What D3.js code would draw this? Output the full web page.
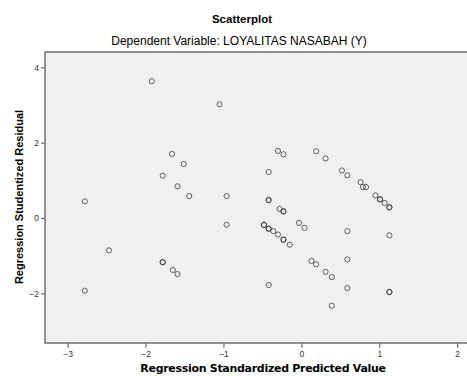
<!DOCTYPE html>
<html>
<head>
<meta charset="utf-8">
<script src="https://cdn.jsdelivr.net/npm/d3@7"></script>
<style>
  body { margin: 0; background: #fff; }
  svg { display: block; font-family: "Liberation Sans", Arial, sans-serif; }
</style>
</head>
<body>
<svg id="chart" width="467" height="376"></svg>
<script>
// Regression standardized predicted value (x) vs studentized residual (y)
const predicted = [
  -2.78, -2.78, -2.47, -1.92, -1.05, -1.66, -1.51, -1.78, -1.59, -1.44,
  -0.96, -0.96, -1.78, -1.78, -1.65, -1.59, -0.30, -0.23, -0.42, -0.42,
  -0.42, -0.28, -0.23, -0.23, -0.48, -0.48, -0.42, -0.42, -0.36, -0.30,
  -0.23, -0.23, -0.15, -0.03, 0.04, -0.42, 0.13, 0.19, 0.31, 0.39,
  0.39, 0.59, 0.59, 0.59, 1.13, 1.13, 1.13, 0.19, 0.31, 0.52,
  0.59, 0.76, 0.79, 0.83, 0.95, 1.01, 1.01, 1.07, 1.13, 1.13
];
const residual = [
  0.44, -1.93, -0.86, 3.63, 3.02, 1.70, 1.43, 1.12, 0.84, 0.58,
  0.58, -0.18, -1.17, -1.18, -1.38, -1.49, 1.78, 1.69, 1.22, 0.47,
  0.48, 0.24, 0.18, 0.17, -0.18, -0.19, -0.28, -0.29, -0.35, -0.44,
  -0.57, -0.58, -0.71, -0.13, -0.26, -1.78, -1.14, -1.23, -1.43, -1.57,
  -2.33, -0.35, -1.10, -1.86, -0.46, -1.96, -1.97, 1.77, 1.58, 1.26,
  1.13, 0.95, 0.82, 0.82, 0.60, 0.50, 0.49, 0.40, 0.29, 0.28
];
const xTicks = [-3, -2, -1, 0, 1, 2];
const yTicks = [-2, 0, 2, 4];

const title = "Scatterplot";
const subtitle = "Dependent Variable: LOYALITAS NASABAH (Y)";
const xTitle = "Regression Standardized Predicted Value";
const yTitle = "Regression Studentized Residual";

const svg = d3.select("#chart");
const plot = { left: 45, right: 467, top: 52, bottom: 343 };

const x = d3.scaleLinear().domain([-3.291, 2.126]).range([plot.left, plot.right]);
const y = d3.scaleLinear().domain([-3.319, 4.406]).range([plot.bottom, plot.top]);

// plot background
svg.append("rect")
  .attr("x", plot.left).attr("y", plot.top)
  .attr("width", plot.right - plot.left).attr("height", plot.bottom - plot.top)
  .attr("fill", "#f0f0f0");

// frame (left, top, bottom)
svg.append("path")
  .attr("d", `M${plot.right},${plot.top}H${plot.left}V${plot.bottom}H${plot.right}`)
  .attr("fill", "none").attr("stroke", "#707070").attr("stroke-width", 1.5);

// axes
const xAxis = svg.append("g")
  .attr("transform", `translate(0,${plot.bottom})`)
  .call(d3.axisBottom(x).tickValues(xTicks).tickSize(5).tickPadding(3).tickFormat(d3.format("d")));
const yAxis = svg.append("g")
  .attr("transform", `translate(${plot.left},0)`)
  .call(d3.axisLeft(y).tickValues(yTicks).tickSize(4).tickPadding(2).tickFormat(d3.format("d")));

[xAxis, yAxis].forEach(g => {
  g.select(".domain").remove();
  g.selectAll(".tick line").attr("stroke", "#555");
  g.selectAll(".tick text")
    .attr("fill", "#333")
    .style("font-size", "8.5px")
    .style("font-family", "'Liberation Sans', Arial, sans-serif");
});

// points
svg.append("g")
  .selectAll("circle")
  .data(predicted.map((p, i) => [p, residual[i]]))
  .join("circle")
  .attr("cx", d => x(d[0]))
  .attr("cy", d => y(d[1]))
  .attr("r", 2.6)
  .attr("fill", "none")
  .attr("stroke", "#333")
  .attr("stroke-opacity", 0.75)
  .attr("stroke-width", 1);

// titles
svg.append("text")
  .attr("x", 242).attr("y", 23)
  .attr("text-anchor", "middle")
  .style("font-size", "11.5px").style("font-weight", "bold")
  .text(title);
svg.append("text")
  .attr("x", 239).attr("y", 45)
  .attr("text-anchor", "middle")
  .style("font-size", "12px")
  .text(subtitle);
svg.append("text")
  .attr("x", 263).attr("y", 372)
  .attr("text-anchor", "middle")
  .style("font-size", "11px").style("font-weight", "bold")
  .style("font-family", "'DejaVu Sans', sans-serif")
  .style("letter-spacing", "-0.3px")
  .text(xTitle);
svg.append("text")
  .attr("transform", "translate(23,197) rotate(-90)")
  .attr("text-anchor", "middle")
  .style("font-size", "11px").style("font-weight", "bold")
  .text(yTitle);
</script>
</body>
</html>
